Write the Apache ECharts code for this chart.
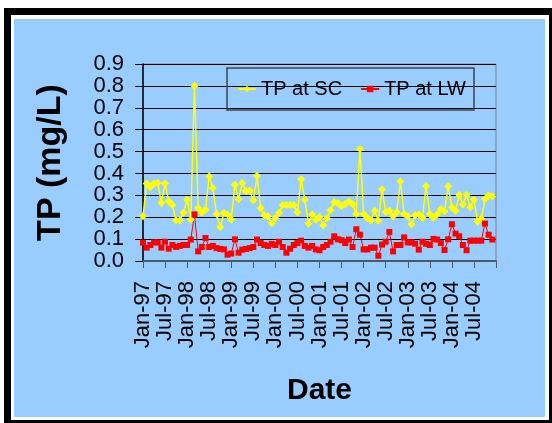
<!DOCTYPE html>
<html>
<head>
<meta charset="utf-8">
<title>TP at SC and LW</title>
<script src="https://cdn.jsdelivr.net/npm/echarts@6/dist/echarts.min.js"></script>
<style>
  html, body { margin: 0; padding: 0; background: #fff; overflow: hidden; }
  .frame { position: absolute; }
  #black { left: 4px; top: 8px; width: 600px; height: 500px; background: #000; }
  #white { left: 11px; top: 15px; width: 538px; height: 405px; background: #fff; }
  #blue { left: 14px; top: 19px; width: 531px; height: 398px; background: #99ccff; }
  #chart { position: absolute; left: 0; top: 0; width: 552px; height: 423px; }
</style>
</head>
<body>
<div class="frame" id="black"></div>
<div class="frame" id="white"></div>
<div class="frame" id="blue"></div>
<div id="chart"></div>
<script>
// axis labels, one every 6 months
var tickLabels = ["Jan-97", "Jul-97", "Jan-98", "Jul-98", "Jan-99", "Jul-99",
  "Jan-00", "Jul-00", "Jan-01", "Jul-01", "Jan-02", "Jul-02",
  "Jan-03", "Jul-03", "Jan-04", "Jul-04"];

// monthly TP (mg/L), Jan-97 .. Dec-04
var scValues = [0.205, 0.354, 0.338, 0.354, 0.358, 0.265, 0.354, 0.273, 0.256, 0.186,
  0.186, 0.22, 0.28, 0.19, 0.80, 0.242, 0.22, 0.235, 0.387, 0.333,
  0.215, 0.155, 0.22, 0.212, 0.19, 0.348, 0.282, 0.356, 0.32, 0.322,
  0.277, 0.389, 0.242, 0.209, 0.203, 0.172, 0.197, 0.221, 0.256, 0.256,
  0.256, 0.256, 0.223, 0.373, 0.28, 0.171, 0.212, 0.189, 0.201, 0.163,
  0.195, 0.232, 0.268, 0.265, 0.25, 0.26, 0.272, 0.26, 0.215, 0.512,
  0.215, 0.197, 0.186, 0.23, 0.184, 0.328, 0.224, 0.23, 0.204, 0.224,
  0.363, 0.215, 0.204, 0.168, 0.209, 0.213, 0.198, 0.343, 0.215, 0.198,
  0.213, 0.236, 0.227, 0.341, 0.246, 0.23, 0.302, 0.258, 0.302, 0.246,
  0.28, 0.181, 0.193, 0.283, 0.299, 0.296];

var lwValues = [0.084, 0.061, 0.073, 0.085, 0.085, 0.061, 0.088, 0.056, 0.073, 0.064,
  0.069, 0.073, 0.073, 0.098, 0.213, 0.044, 0.064, 0.105, 0.064, 0.069,
  0.059, 0.055, 0.053, 0.029, 0.034, 0.099, 0.038, 0.052, 0.055, 0.059,
  0.064, 0.098, 0.082, 0.073, 0.069, 0.078, 0.073, 0.088, 0.064, 0.038,
  0.056, 0.073, 0.082, 0.093, 0.069, 0.061, 0.069, 0.053, 0.049, 0.064,
  0.073, 0.088, 0.113, 0.099, 0.095, 0.082, 0.098, 0.064, 0.145, 0.12,
  0.053, 0.053, 0.061, 0.061, 0.024, 0.075, 0.088, 0.133, 0.044, 0.073,
  0.073, 0.108, 0.085, 0.085, 0.079, 0.052, 0.088, 0.079, 0.073, 0.101,
  0.098, 0.082, 0.05, 0.099, 0.168, 0.125, 0.113, 0.073, 0.049, 0.093,
  0.093, 0.093, 0.093, 0.171, 0.12, 0.098];

// month index -> value pairs
function toPairs(arr) {
  return arr.map(function (v, i) { return [i, v]; });
}

var font = "Liberation Sans, Arial, sans-serif";

var option = {
  animation: false,
  textStyle: { fontFamily: font },
  grid: {
    left: 143, top: 64, right: 56, bottom: 162,
    show: true, borderColor: "#808080", borderWidth: 1
  },
  legend: {
    left: 227, top: 68,
    padding: [11, 8, 11, 10],
    borderColor: "#3a4450", borderWidth: 1.5,
    itemWidth: 18, itemHeight: 8, itemGap: 18,
    textStyle: { fontSize: 20, color: "#000", fontFamily: font },
    data: ["TP at SC", "TP at LW"]
  },
  xAxis: {
    type: "value",
    min: 0, max: 96, interval: 6,
    name: "Date",
    nameLocation: "middle",
    nameGap: 115,
    nameTextStyle: { fontSize: 30, fontWeight: "bold", color: "#000", fontFamily: font },
    axisLine: { lineStyle: { color: "#4f5a66", width: 2 } },
    axisTick: { length: 7, lineStyle: { color: "#4f5a66" } },
    splitLine: { show: false },
    axisLabel: {
      rotate: 90, margin: 20, fontSize: 22, color: "#000", fontFamily: font,
      formatter: function (v) { return tickLabels[v / 6] || ""; }
    }
  },
  yAxis: {
    type: "value",
    min: 0, max: 0.9, interval: 0.1,
    name: "TP (mg/L)",
    nameLocation: "middle",
    nameRotate: 90,
    nameGap: 75,
    nameTextStyle: { fontSize: 34, fontWeight: "bold", color: "#000", fontFamily: font },
    axisLine: { show: true, lineStyle: { color: "#000", width: 1.5 } },
    axisTick: { show: true, length: 8, lineStyle: { color: "#000" } },
    splitLine: { lineStyle: { color: "#000", width: 1 } },
    axisLabel: {
      margin: 19, fontSize: 22, color: "#000", fontFamily: font,
      formatter: function (v) { return v.toFixed(1); }
    }
  },
  series: [
    {
      name: "TP at SC",
      type: "line",
      data: toPairs(scValues),
      symbol: "diamond",
      symbolSize: 8,
      itemStyle: { color: "#ffff00" },
      lineStyle: { color: "#ffff00", width: 1.5 }
    },
    {
      name: "TP at LW",
      type: "line",
      data: toPairs(lwValues),
      symbol: "rect",
      symbolSize: 6,
      itemStyle: { color: "#ff0000" },
      lineStyle: { color: "#ff0000", width: 1 }
    }
  ]
};

var chart = echarts.init(document.getElementById("chart"), null, { renderer: "canvas" });
chart.setOption(option);
</script>
</body>
</html>
